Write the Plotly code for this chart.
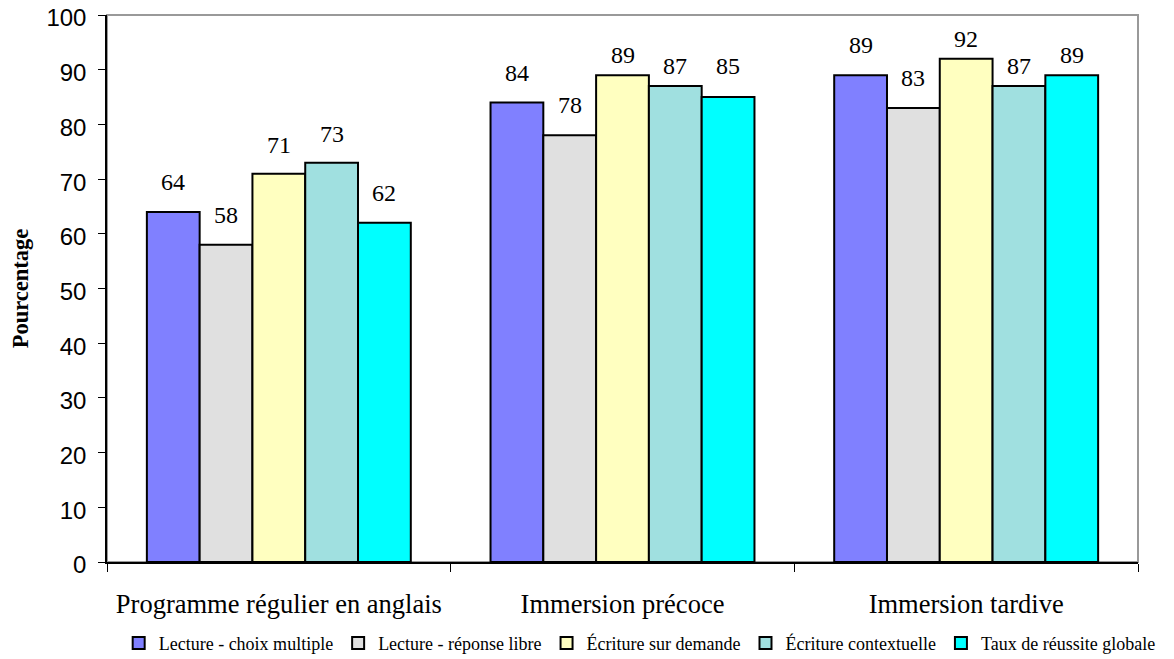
import plotly.graph_objects as go

categories = ["Programme régulier en anglais", "Immersion précoce", "Immersion tardive"]
series_names = ["Lecture - choix multiple", "Lecture - réponse libre", "Écriture sur demande",
                "Écriture contextuelle", "Taux de réussite globale"]
lecture_choix = [64, 84, 89]
lecture_libre = [58, 78, 83]
ecriture_demande = [71, 89, 92]
ecriture_context = [73, 87, 87]
taux_global = [62, 85, 89]
colors = ["#8080FF", "#E0E0E0", "#FFFFC0", "#A0E0E0", "#00FFFF"]

series = [lecture_choix, lecture_libre, ecriture_demande, ecriture_context, taux_global]

# pixel lift of each value label above its bar (style only, as in the source chart)
label_lift = [
    [15, 15, 15],
    [15, 15, 15],
    [14, 5, 5],
    [14, 5, 5],
    [15, 16, 5],
]

# layout geometry (page body adds 8px offset)
W, H = 1166, 651
ML, MR, MT, MB = 99, 36, 7, 97
BARGAP = 0.232
plot_w = W - ML - MR
bar_px = plot_w / len(categories) * (1 - BARGAP) / len(series)

fig = go.Figure()
for name, vals, col in zip(series_names, series, colors):
    fig.add_trace(go.Bar(
        x=categories, y=vals, name=name,
        marker=dict(color=col, line=dict(color="black", width=2)),
        cliponaxis=False,
    ))

# value labels above bars
n = len(series)
for i, vals in enumerate(series):
    for j, (cat, v) in enumerate(zip(categories, vals)):
        fig.add_annotation(
            x=cat, y=v, text=str(v), showarrow=False,
            xshift=(i - (n - 1) / 2) * bar_px, yshift=label_lift[i][j], yanchor="bottom",
            font=dict(family="Liberation Serif", size=24, color="black"),
        )

fig.update_layout(
    width=W, height=H,
    barmode="group", bargap=BARGAP, bargroupgap=0,
    paper_bgcolor="white", plot_bgcolor="white",
    margin=dict(l=ML, r=MR, t=MT, b=MB, autoexpand=False),
    showlegend=True,
    legend=dict(orientation="h", x=1.022, xanchor="right", y=-0.115, yanchor="top",
                font=dict(family="Liberation Serif", size=18, color="black"),
                itemwidth=30, traceorder="normal"),
)
fig.update_xaxes(
    type="category", tickson="boundaries", ticks="outside", ticklen=8, tickcolor="black",
    showline=True, linecolor="black", linewidth=1.5, mirror=False,
    tickfont=dict(family="Liberation Serif", size=26.5, color="black"),
    ticklabelstandoff=17,
    showgrid=False,
)
fig.update_yaxes(
    range=[0, 100], dtick=10, ticks="outside", ticklen=7, tickcolor="black",
    showline=True, linecolor="black", linewidth=1.5,
    tickfont=dict(family="Liberation Sans", size=24, color="black"),
    ticklabelstandoff=7, ticklabeloverflow="allow", ticklabelshift=3,
    showgrid=False, zeroline=False,
    title=dict(text="<b>Pourcentage</b>", font=dict(family="Liberation Serif", size=22.5, color="black"), standoff=29),
)
# gray top/right frame
fig.add_shape(type="rect", xref="paper", yref="paper", x0=0, y0=0, x1=1, y1=1,
              line=dict(color="#999999", width=2), layer="below")

fig.write_html("out.html")
